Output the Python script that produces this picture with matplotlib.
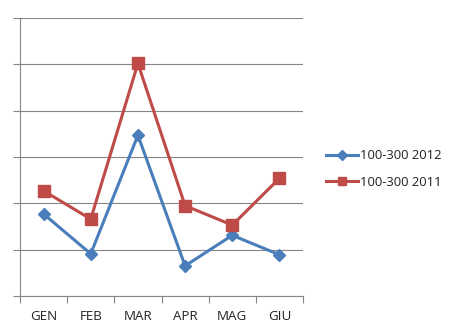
import matplotlib
matplotlib.use("Agg")
import matplotlib.pyplot as plt
from matplotlib.ticker import FixedLocator, NullFormatter

categories = ["GEN", "FEB", "MAR", "APR", "MAG", "GIU"]
series_2012 = [1.77, 0.91, 3.47, 0.65, 1.31, 0.89]
series_2011 = [2.27, 1.66, 5.02, 1.95, 1.53, 2.54]
labels = ["100-300 2012", "100-300 2011"]

plt.rcParams['font.family'] = ['Open Sans', 'DejaVu Sans']

fig = plt.figure(figsize=(4.5, 3.34), dpi=100)
ax = fig.add_axes([20/450, 1-296/334, (303-20)/450, (296-18)/334])

x = list(range(len(categories)))
blue = '#4A7EBB'
red = '#BE4B48'
ax.plot(x, series_2012, color=blue, lw=2.2, marker='D', markersize=6.5,
        label=labels[0], zorder=3)
ax.plot(x, series_2011, color=red, lw=2.2, marker='s', markersize=8.5,
        label=labels[1], zorder=3)

ax.set_xlim(-0.5, len(categories) - 0.5)
ax.set_ylim(0, 6)
ax.set_xticks(x)
ax.set_xticklabels(categories, fontsize=9.6, color='#222222')
ax.tick_params(axis='x', which='major', length=0, pad=10)
ax.xaxis.set_minor_locator(FixedLocator([i - 0.5 for i in range(len(categories) + 1)]))
ax.tick_params(axis='x', which='minor', length=5, color='#868686', width=0.8)
ax.set_yticks(range(0, 7))
ax.yaxis.set_major_formatter(NullFormatter())
ax.tick_params(axis='y', length=5, color='#868686', width=0.8)
ax.grid(axis='y', color='#868686', lw=0.8)
ax.set_axisbelow(True)
for s in ['top', 'right']:
    ax.spines[s].set_visible(False)
for s in ['left', 'bottom']:
    ax.spines[s].set_color('#868686')
    ax.spines[s].set_linewidth(0.8)

leg = fig.legend(loc='center left', bbox_to_anchor=(314/450, 1-169/334), frameon=False,
                 fontsize=9.4, handlelength=2.5, handletextpad=0.15, labelspacing=1.05,
                 markerscale=0.75)
for t in leg.get_texts():
    t.set_color('#222222')

fig.savefig('out.png', dpi=100)
